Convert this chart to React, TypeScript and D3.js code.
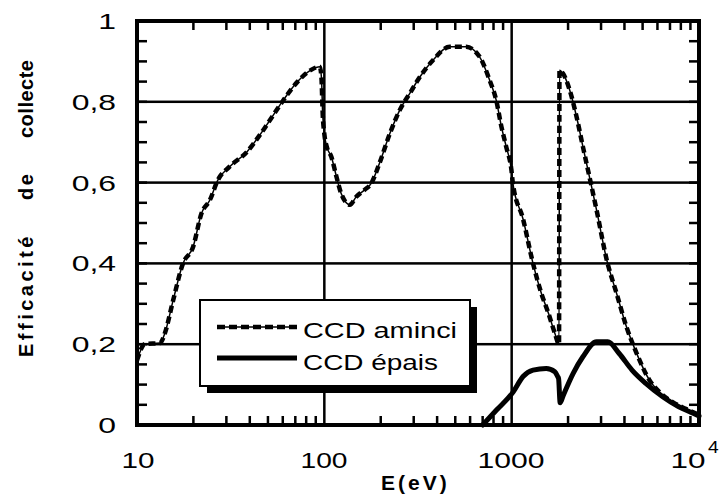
import React from "react";
import * as d3 from "d3";

const aminciE = [10, 11, 13.3, 14.1, 15.6, 17.6, 19.9, 22.1, 24.5, 27, 31.3, 38.6, 45.3, 51.3, 60.4, 72, 85, 94.5, 96.5, 98, 100, 103, 109, 116, 123, 137, 148, 164, 178, 197, 224, 253, 286, 324, 380, 467, 571, 673, 762, 827, 882, 935, 997, 1015, 1150, 1300, 1440, 1570, 1700, 1790, 1800, 1880, 2040, 2220, 2400, 2600, 2840, 3220, 3630, 4100, 4640, 5440, 6200, 7200, 8500, 10000];
const aminciV = [0.16, 0.2, 0.203, 0.228, 0.309, 0.4, 0.44, 0.524, 0.557, 0.606, 0.64, 0.676, 0.718, 0.755, 0.804, 0.85, 0.879, 0.887, 0.86, 0.77, 0.72, 0.689, 0.664, 0.615, 0.573, 0.545, 0.565, 0.582, 0.598, 0.648, 0.722, 0.78, 0.821, 0.862, 0.903, 0.936, 0.936, 0.912, 0.854, 0.804, 0.738, 0.689, 0.631, 0.598, 0.51, 0.4, 0.326, 0.277, 0.227, 0.2, 0.878, 0.87, 0.829, 0.763, 0.689, 0.615, 0.532, 0.408, 0.326, 0.243, 0.178, 0.111, 0.08, 0.057, 0.04, 0.025];

const epaisE = [700, 830, 1020, 1150, 1300, 1530, 1700, 1760, 1780, 1815, 1880, 2130, 2400, 2840, 3260, 3750, 4390, 5200, 6400, 7800, 9300, 10000];
const epaisV = [0, 0.037, 0.082, 0.12, 0.136, 0.14, 0.132, 0.12, 0.115, 0.055, 0.072, 0.128, 0.169, 0.206, 0.206, 0.177, 0.136, 0.103, 0.07, 0.045, 0.029, 0.022];

const yTickLabels = ["0", "0,2", "0,4", "0,6", "0,8", "1"];
const yTickValues = [0, 0.2, 0.4, 0.6, 0.8, 1];
const xTickValues = [10, 100, 1000, 10000];
const xTickLabels = ["10", "100", "1000", "10"];
const seriesNames = ["CCD aminci", "CCD épais"];
const yTitleWords = ["Efficacité", "de", "collecte"];

const FONT = "'Liberation Sans', Arial, Helvetica, sans-serif";

export default function App() {
  const x = d3.scaleLog().domain([10, 10000]).range([137, 699]);
  const y = d3.scaleLinear().domain([0, 1]).range([425, 21]);

  const line = d3
    .line<[number, number]>()
    .x((d) => x(d[0]))
    .y((d) => y(d[1]))
    .curve(d3.curveMonotoneX);

  const aminci = line(aminciE.map((e, i) => [e, aminciV[i]] as [number, number])) || "";
  const epais = line(epaisE.map((e, i) => [e, epaisV[i]] as [number, number])) || "";

  const L = 137, R = 699, T = 21, B = 425;

  const minorY = d3.range(1, 20).map((i) => i * 0.05);
  const minorX: number[] = [];
  [10, 100, 1000].forEach((d) => {
    for (let m = 2; m <= 9; m++) minorX.push(d * m);
  });

  const xLabelLen = [33, 47, 67, 35];
  const xLabelCx = [138, 324, 511, 688];
  const yWordStart = [357, 200, 138];
  const yWordSpacing = [3.5, 2.5, 0.5];

  return (
    <svg
      width={723}
      height={494}
      viewBox="0 0 723 494"
      style={{ position: "absolute", left: 0, top: 0, background: "#fff" }}
      fontFamily={FONT}
    >
      {/* grid */}
      {[0.2, 0.4, 0.6, 0.8].map((v) => (
        <rect key={"gy" + v} x={L} y={y(v) - 1.25} width={R - L} height={2.5} fill="#000" />
      ))}
      {[100, 1000].map((v) => (
        <rect key={"gx" + v} x={x(v) - 1.25} y={T} width={2.5} height={B - T} fill="#000" />
      ))}
      {/* minor ticks */}
      {minorY.map((v) => (
        <rect key={"tl" + v} x={L} y={y(v) - 1.25} width={10} height={2.5} fill="#000" />
      ))}
      {minorY.map((v) => (
        <rect key={"tr" + v} x={R - 10} y={y(v) - 1.25} width={10} height={2.5} fill="#000" />
      ))}
      {minorX.map((v) => (
        <rect key={"tt" + v} x={x(v) - 1.25} y={T} width={2.5} height={9} fill="#000" />
      ))}
      {minorX.map((v) => (
        <rect key={"tb" + v} x={x(v) - 1.25} y={B - 9} width={2.5} height={9} fill="#000" />
      ))}
      {/* curves */}
      <path d={epais} fill="none" stroke="#000" strokeWidth={5} strokeLinejoin="round" strokeLinecap="round" />
      <path d={aminci} fill="none" stroke="#000" strokeWidth={1.5} />
      <path d={aminci} fill="none" stroke="#000" strokeWidth={4.5} strokeDasharray="7,4" />
      {/* frame */}
      <rect x={L} y={T} width={R - L} height={B - T} fill="none" stroke="#000" strokeWidth={4} />
      {/* legend */}
      <rect x={207} y={307} width={270} height={86} fill="#000" />
      <rect x={200} y={300} width={270} height={86} fill="#fff" stroke="#000" strokeWidth={2} />
      <line x1={217} x2={297} y1={327} y2={327} stroke="#000" strokeWidth={1.5} />
      <line x1={217} x2={297} y1={327} y2={327} stroke="#000" strokeWidth={4.5} strokeDasharray="8,4" />
      <line x1={217} x2={297} y1={358} y2={358} stroke="#000" strokeWidth={5} />
      <text x={303} y={338} fontSize={22} textLength={154} lengthAdjust="spacingAndGlyphs">
        {seriesNames[0]}
      </text>
      <text x={303} y={370} fontSize={22} textLength={135} lengthAdjust="spacingAndGlyphs">
        {seriesNames[1]}
      </text>
      {/* y tick labels */}
      {yTickValues.map((v, i) => (
        <text
          key={"yl" + v}
          transform={`translate(116,${y(v) + 8}) scale(1.45,1)`}
          textAnchor="end"
          fontSize={22}
        >
          {yTickLabels[i]}
        </text>
      ))}
      {/* x tick labels */}
      {xTickValues.map((v, i) => (
        <text
          key={"xl" + v}
          x={xLabelCx[i] - xLabelLen[i] / 2}
          y={468}
          fontSize={22}
          textLength={xLabelLen[i]}
          lengthAdjust="spacingAndGlyphs"
        >
          {xTickLabels[i]}
        </text>
      ))}
      <text transform={`translate(708,453) scale(1.2,1)`} fontSize={16}>
        4
      </text>
      {/* axis titles */}
      <text x={381} y={490} fontSize={21} fontWeight="bold" letterSpacing={3}>
        E(eV)
      </text>
      {yTitleWords.map((w, i) => (
        <text
          key={w}
          transform={`translate(33,${yWordStart[i]}) rotate(-90)`}
          fontSize={20}
          fontWeight="bold"
          letterSpacing={yWordSpacing[i]}
        >
          {w}
        </text>
      ))}
    </svg>
  );
}
